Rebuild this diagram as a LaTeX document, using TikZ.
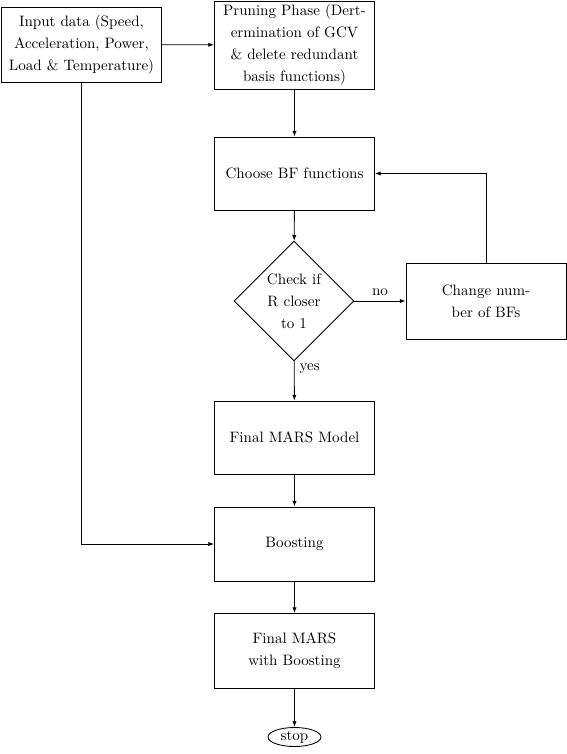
\documentclass[tikz,border=0pt]{standalone}
\usetikzlibrary{shapes.geometric,arrows.meta}
\begin{document}
\begin{tikzpicture}[x=0.69pt,y=-0.69pt,
  every node/.style={font=\fontsize{10.4}{15.2}\selectfont},
  box/.style={draw,line width=0.6pt,rectangle,align=center,minimum width=160*0.69pt,inner sep=2pt},
  dec/.style={draw,line width=0.6pt,diamond,align=center,minimum width=120*0.69pt,minimum height=120*0.69pt,inner sep=0pt},
  term/.style={draw,line width=0.6pt,ellipse,minimum width=53*0.69pt,minimum height=19*0.69pt,inner sep=0pt},
  arr/.style={line width=0.6pt,-{Latex[length=4pt,width=3pt]}},
  lbl/.style={font=\fontsize{10.4}{12}\selectfont}]
\useasboundingbox (0,0) rectangle (567,754);
\node[box,minimum height=75*0.69pt] (in) at (81.5,44.5) {Input data (Speed,\\Acceleration, Power,\\Load \& Temperature)};
\node[box,minimum height=88*0.69pt] (pr) at (294.5,45) {Pruning Phase (Dert-\\ermination of GCV\\\& delete redundant\\basis functions)};
\node[box,minimum height=73*0.69pt] (ch) at (294.5,173.5) {Choose BF functions};
\node[dec] (dc) at (294,301) {Check if\\R closer\\to 1};
\node[box,minimum height=76*0.69pt] (cn) at (486,301) {Change num-\\ber of BFs};
\node[box,minimum height=73*0.69pt] (fm) at (294.5,437.5) {Final MARS Model};
\node[box,minimum height=74*0.69pt] (bo) at (294.5,544) {Boosting};
\node[box,minimum height=75*0.69pt] (fb) at (294.5,651) {Final MARS\\with Boosting};
\node[term] (st) at (294.5,737) {stop};
\coordinate (c1) at (81.5,544);
\coordinate (c2) at (486,173.5);
\draw[arr] (in) -- (pr);
\draw[arr] (pr) -- (ch);
\draw[arr] (ch) -- (dc);
\draw[arr] (dc) -- node[lbl,above] {no} (cn);
\draw[arr] (dc) -- node[lbl,right,pos=0.2] {yes} (fm);
\draw[arr] (cn.north) -- (c2) -- (ch.east);
\draw[arr] (fm) -- (bo);
\draw[arr] (in.south) -- (c1) -- (bo.west);
\draw[arr] (bo) -- (fb);
\draw[arr] (fb) -- (st);
\end{tikzpicture}
\end{document}
